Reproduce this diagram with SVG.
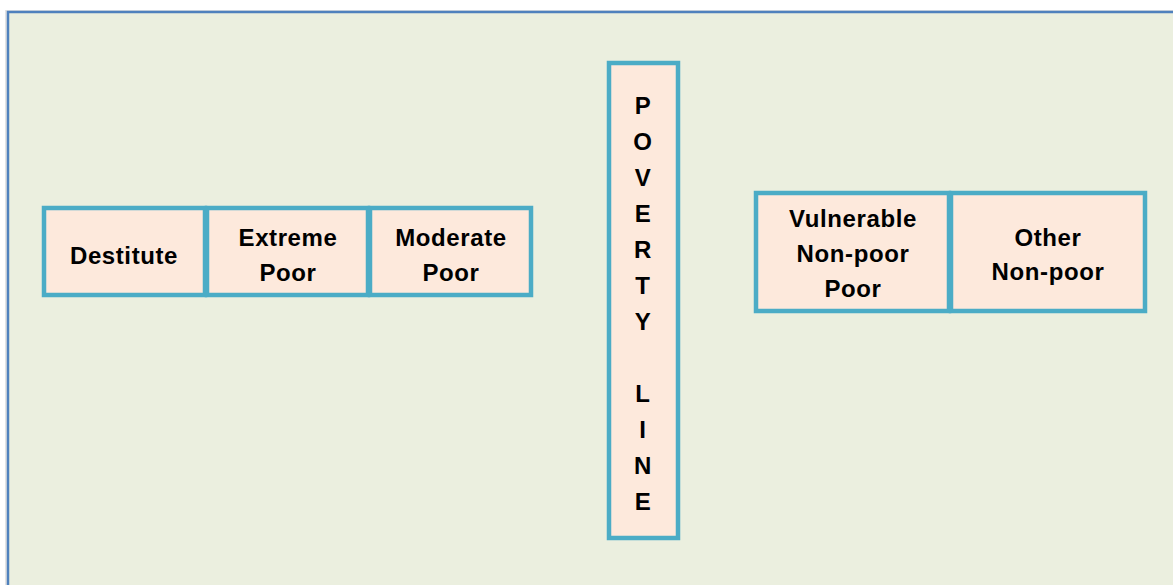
<svg xmlns="http://www.w3.org/2000/svg" width="1173" height="585" viewBox="0 0 1173 585">
<style>
.box{fill:#fde9dc;stroke:#4bacc6;stroke-width:4.5}
.t{font-family:"Liberation Sans",Arial,sans-serif;font-weight:bold;font-size:24px;letter-spacing:0.6px;fill:#000;text-anchor:middle}
</style>
<rect x="0" y="0" width="1173" height="585" fill="#ffffff"/>
<rect x="5" y="10" width="1200" height="600" fill="#d0d0d0" opacity="0.6"/>
<rect x="8" y="12" width="1200" height="600" fill="#ebefdf" stroke="#4f81bd" stroke-width="2.5"/>
<g id="destitute"><rect class="box" x="44" y="208" width="161" height="87"/><text class="t" x="124" y="264">Destitute</text></g>
<g id="extreme-poor"><rect class="box" x="207" y="208" width="161" height="87"/><text class="t" x="288" y="246">Extreme</text><text class="t" x="288" y="281">Poor</text></g>
<g id="moderate-poor"><rect class="box" x="370" y="208" width="161" height="87"/><text class="t" x="451" y="246">Moderate</text><text class="t" x="451" y="281">Poor</text></g>
<g id="poverty-line"><rect class="box" x="609" y="63" width="69" height="475"/>
<text class="t" x="643" y="114">P</text><text class="t" x="643" y="150">O</text><text class="t" x="643" y="186">V</text><text class="t" x="643" y="222">E</text><text class="t" x="643" y="258">R</text><text class="t" x="643" y="294">T</text><text class="t" x="643" y="330">Y</text><text class="t" x="643" y="402">L</text><text class="t" x="643" y="438">I</text><text class="t" x="643" y="474">N</text><text class="t" x="643" y="510">E</text></g>
<g id="vulnerable"><rect class="box" x="756" y="193" width="193" height="118"/><text class="t" x="853" y="227">Vulnerable</text><text class="t" x="853" y="262">Non-poor</text><text class="t" x="853" y="297">Poor</text></g>
<g id="other-non-poor"><rect class="box" x="951" y="193" width="194" height="118"/><text class="t" x="1048" y="246">Other</text><text class="t" x="1048" y="280">Non-poor</text></g>
<g id="connectors"/>
</svg>
